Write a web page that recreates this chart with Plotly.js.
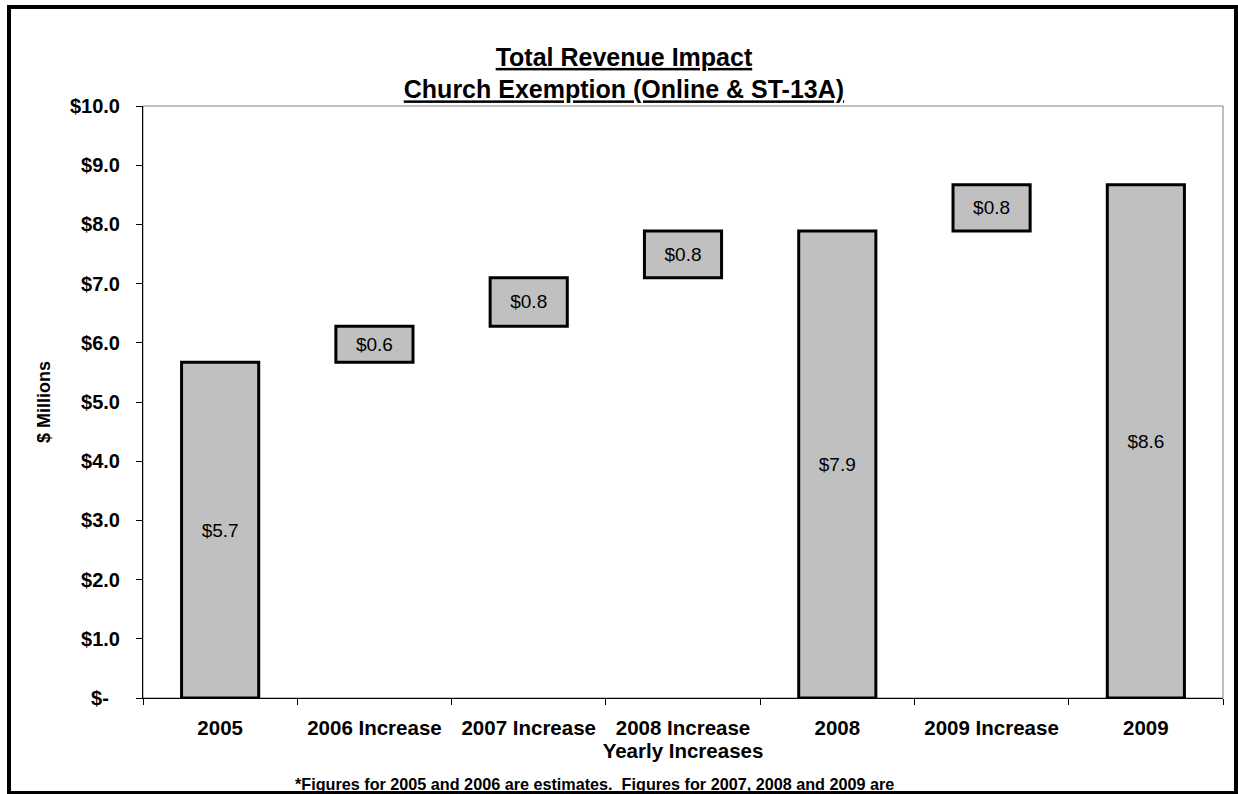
<!DOCTYPE html>
<html>
<head>
<meta charset="utf-8">
<script src="https://cdn.plot.ly/plotly-3.0.1.min.js"></script>
<style>html,body{margin:0;padding:0;background:#fff;}#chart{width:1238px;height:794px;}</style>
</head>
<body>
<div id="chart"></div>
<script>
// ---- data ----
const categories = ['2005', '2006 Increase', '2007 Increase', '2008 Increase', '2008', '2009 Increase', '2009'];
const measures = ['absolute', 'relative', 'relative', 'relative', 'total', 'relative', 'total'];
const amounts = [5.67, 0.61, 0.82, 0.79, null, 0.78, null];
const barLabels = ['$5.7', '$0.6', '$0.8', '$0.8', '$7.9', '$0.8', '$8.6'];
const yTickVals = [0, 1, 2, 3, 4, 5, 6, 7, 8, 9, 10];
const yTickText = ['$-\u00a0\u00a0', '$1.0', '$2.0', '$3.0', '$4.0', '$5.0', '$6.0', '$7.0', '$8.0', '$9.0', '$10.0'];
const footnote = '*Figures for 2005 and 2006 are estimates.  Figures for 2007, 2008 and 2009 are';

const FONT = '"Liberation Sans", Arial, Helvetica, sans-serif';
const barStyle = { marker: { color: '#C0C0C0', line: { color: '#000000', width: 3 } } };

const trace = {
  type: 'waterfall',
  x: categories,
  y: amounts,
  measure: measures,
  text: barLabels,
  textinfo: 'text',
  textposition: 'inside',
  insidetextanchor: 'middle',
  constraintext: 'none',
  textfont: { family: FONT, size: 19, color: '#000000' },
  increasing: barStyle,
  decreasing: barStyle,
  totals: barStyle,
  connector: { visible: false },
  hoverinfo: 'skip',
  showlegend: false
};

const layout = {
  width: 1238,
  height: 794,
  margin: { l: 143, r: 15, t: 106, b: 96 },
  paper_bgcolor: '#ffffff',
  plot_bgcolor: '#ffffff',
  waterfallgap: 0.5,
  font: { family: FONT, color: '#000000' },
  title: {
    text: '<b><u>Total Revenue Impact</u></b><br><b><u>Church Exemption (Online & ST-13A)</u></b>',
    font: { family: FONT, size: 25, color: '#000000' },
    xref: 'container', x: 0.504, xanchor: 'center',
    yref: 'container', y: 0.917, yanchor: 'top'
  },
  xaxis: {
    type: 'category',
    showgrid: false,
    zeroline: false,
    showline: true,
    linecolor: '#000000',
    linewidth: 1,
    ticks: 'outside',
    tickson: 'boundaries',
    ticklen: 6,
    tickcolor: '#000000',
    ticklabelstandoff: 11,
    tickfont: { family: FONT, size: 20.5, color: '#000000', weight: 'bold' },
    title: { text: '<b>Yearly Increases</b>', font: { family: FONT, size: 20.5, color: '#000000' }, standoff: 4 },
    fixedrange: true
  },
  yaxis: {
    range: [0, 10],
    tickvals: yTickVals,
    ticktext: yTickText,
    showgrid: false,
    zeroline: false,
    showline: true,
    linecolor: '#000000',
    linewidth: 1,
    ticks: 'outside',
    ticklen: 6,
    tickcolor: '#000000',
    ticklabelstandoff: 12,
    tickfont: { family: FONT, size: 20, color: '#000000', weight: 'bold' },
    title: { text: '<b>$ Millions</b>', font: { family: FONT, size: 18, color: '#000000' }, standoff: 14 },
    fixedrange: true
  },
  shapes: [
    { type: 'rect', xref: 'paper', yref: 'paper', x0: 0, x1: 1, y0: 0, y1: 1,
      line: { color: '#808080', width: 1 }, layer: 'below' },
    { type: 'rect', xref: 'paper', yref: 'paper', x0: -0.12407, x1: 1.01204, y0: -0.16047, y1: 1.16723,
      line: { color: '#000000', width: 4 }, layer: 'above' }
  ],
  annotations: [
    { text: '<b>' + footnote + '</b>', xref: 'paper', yref: 'paper', x: 0.418, y: -0.1453,
      xanchor: 'center', yanchor: 'middle', showarrow: false,
      font: { family: FONT, size: 16.2, color: '#000000' } }
  ]
};

Plotly.newPlot('chart', [trace], layout, { staticPlot: true, displayModeBar: false });
</script>
</body>
</html>
